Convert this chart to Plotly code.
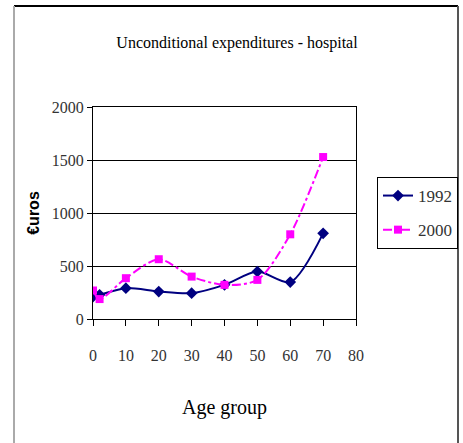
import plotly.graph_objects as go

ages = [0, 2, 10, 20, 30, 40, 50, 60, 70]
exp_1992 = [212, 228, 291, 259, 244, 322, 447, 348, 808]
exp_2000 = [269, 188, 385, 564, 400, 322, 369, 799, 1528]

W, H = 463, 443
L, R, T, B = 93, 356, 107, 319  # plot area pixel bounds

def px(x):
    return (x - L) / (R - L)

def py(y):
    return (B - y) / (B - T)

fig = go.Figure()
fig.add_trace(go.Scatter(
    x=ages, y=exp_1992, name="1992", mode="lines+markers",
    line=dict(color="#000080", width=2, shape="spline", smoothing=0.8),
    marker=dict(symbol="diamond", size=9, color="#000080"),
    legendgroup="a"))
fig.add_trace(go.Scatter(
    x=ages, y=exp_2000, name="2000", mode="lines+markers",
    line=dict(color="#FF00FF", width=2, dash="dashdot", shape="spline", smoothing=0.8),
    marker=dict(symbol="square", size=8, color="#FF00FF"),
    legendgroup="b"))

serif = "Liberation Serif"
fig.update_layout(
    width=W, height=H,
    margin=dict(l=L, r=W - R, t=T, b=H - B),
    paper_bgcolor="white", plot_bgcolor="white",
    title=dict(text="Unconditional expenditures - hospital", x=237 / W, xanchor="center",
               y=1 - 42 / H, yanchor="middle",
               font=dict(family=serif, size=16, color="black")),
    xaxis=dict(range=[0, 80], tickvals=[0, 10, 20, 30, 40, 50, 60, 70, 80],
               showgrid=False, zeroline=False, showline=True, linecolor="black", linewidth=1,
               mirror=True, ticks="outside", ticklen=6, tickcolor="black",
               ticklabelstandoff=16, automargin=False,
               tickfont=dict(family=serif, size=16, color="#333333"),
               title=dict(text="Age group", standoff=36,
                          font=dict(family=serif, size=20, color="black"))),
    yaxis=dict(range=[0, 2000], tickvals=[0, 500, 1000, 1500, 2000],
               showgrid=True, gridcolor="black", gridwidth=1, zeroline=False,
               showline=True, linecolor="black", linewidth=1, mirror=True,
               ticks="outside", ticklen=5, tickcolor="black", automargin=False,
               tickfont=dict(family=serif, size=16, color="#333333"),
               title=dict(text="<b>€uros</b>", standoff=8,
                          font=dict(family="Liberation Sans", size=16, color="black"))),
    legend=dict(xref="container", yref="container", x=377 / W, y=1 - 177 / H,
                xanchor="left", yanchor="top",
                bordercolor="black", borderwidth=1, bgcolor="white",
                tracegroupgap=9, traceorder="grouped",
                font=dict(family=serif, size=17, color="#333333")),
    showlegend=True,
)

# outer chart border
fig.add_shape(type="line", xref="paper", yref="paper", x0=px(14), x1=px(458), y0=py(6), y1=py(6),
              line=dict(color="black", width=2))
fig.add_shape(type="line", xref="paper", yref="paper", x0=px(14), x1=px(14), y0=py(6), y1=py(443),
              line=dict(color="#aaaaaa", width=2))
fig.add_shape(type="line", xref="paper", yref="paper", x0=px(458), x1=px(458), y0=py(6), y1=py(443),
              line=dict(color="#555555", width=2))

fig.write_html("out.html", config={"displayModeBar": False},
               post_script="document.body.style.margin='0';")
